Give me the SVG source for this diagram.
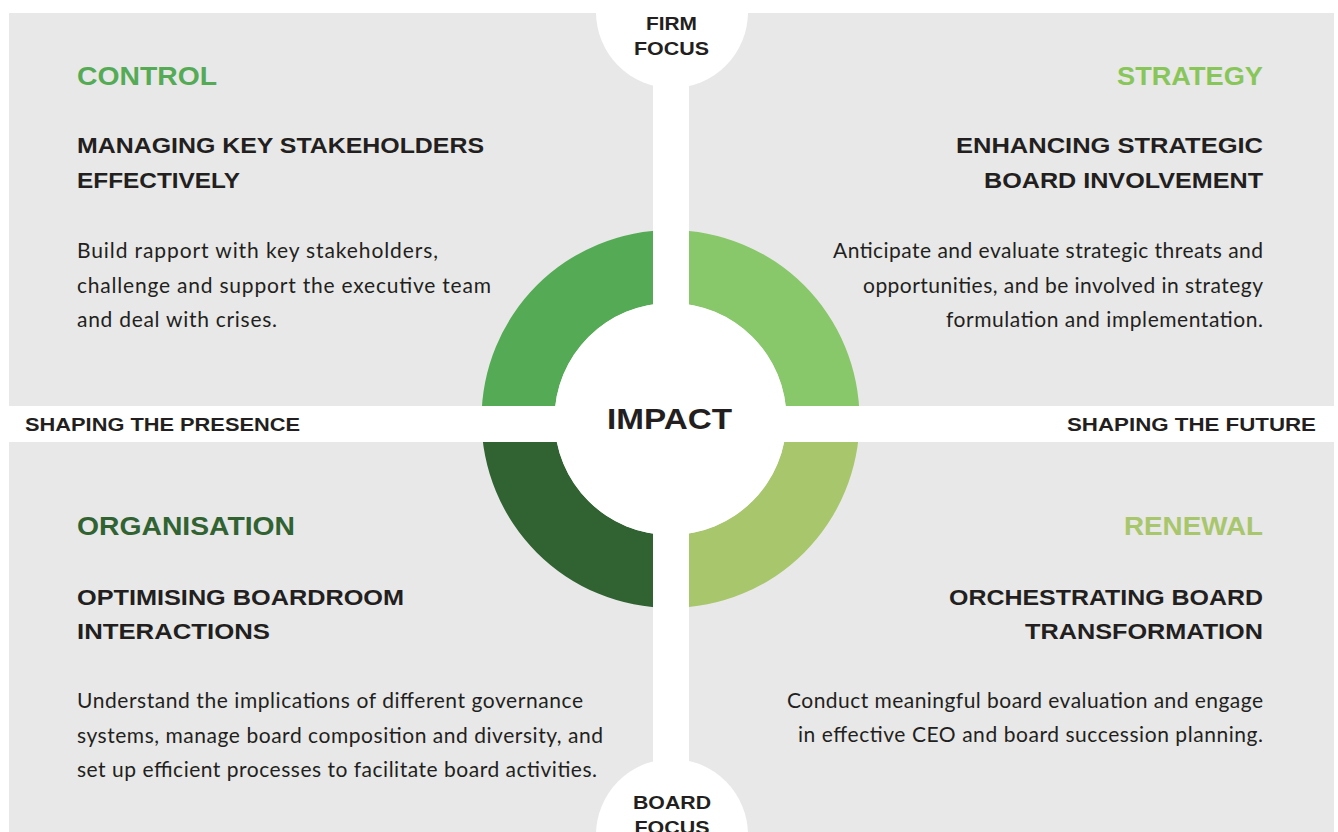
<svg xmlns="http://www.w3.org/2000/svg" width="1338" height="832" viewBox="0 0 1338 832">
  <style>
    .bg { fill: #e8e8e8; }
    .white { fill: #ffffff; }
    .h1 { font-family: "Liberation Sans", Arial, sans-serif; font-weight: 700; font-size: 25px; }
    .h2 { font-family: "Liberation Sans", Arial, sans-serif; font-weight: 700; font-size: 22.5px; fill: #231f20; }
    .body { font-family: Lato, "Liberation Sans", sans-serif; font-weight: 400; font-size: 21px; fill: #231f20; }
    .axis { font-family: "Liberation Sans", Arial, sans-serif; font-weight: 700; font-size: 19px; fill: #231f20; }
    .impact { font-family: "Liberation Sans", Arial, sans-serif; font-weight: 700; font-size: 30px; fill: #231f20; }
    .end { text-anchor: end; }
    .mid { text-anchor: middle; }
  </style>

  <rect x="0" y="0" width="1338" height="832" class="white"/>

  <g id="background">
    <rect class="bg" x="9" y="13" width="644" height="393"/>
    <rect class="bg" x="689" y="13" width="645" height="393"/>
    <rect class="bg" x="9" y="442" width="644" height="390"/>
    <rect class="bg" x="689" y="442" width="645" height="390"/>
  </g>

  <g id="ring">
    <path fill="#55ab55" d="M 481.5 419 A 189 189 0 0 1 670.5 230 L 670.5 303 A 116 116 0 0 0 554.5 419 Z"/>
    <path fill="#88c76a" d="M 670.5 230 A 189 189 0 0 1 859.5 419 L 786.5 419 A 116 116 0 0 0 670.5 303 Z"/>
    <path fill="#a8c66c" d="M 859.5 419 A 189 189 0 0 1 670.5 608 L 670.5 535 A 116 116 0 0 0 786.5 419 Z"/>
    <path fill="#316332" d="M 670.5 608 A 189 189 0 0 1 481.5 419 L 554.5 419 A 116 116 0 0 0 670.5 535 Z"/>
  </g>

  <g id="connectors">
    <rect class="white" x="653" y="0" width="36" height="832"/>
    <rect class="white" x="0" y="406" width="1338" height="36"/>
  </g>

  <g id="impact">
    <circle class="white" cx="670.5" cy="419" r="116"/>
    <text class="impact mid" x="669.5" y="429" textLength="125" lengthAdjust="spacingAndGlyphs">IMPACT</text>
  </g>

  <g id="firm-focus">
    <circle class="white" cx="672" cy="12" r="76"/>
    <text class="axis mid" x="671.5" y="30" textLength="51" lengthAdjust="spacingAndGlyphs">FIRM</text>
    <text class="axis mid" x="671.5" y="55" textLength="75" lengthAdjust="spacingAndGlyphs">FOCUS</text>
  </g>

  <g id="board-focus">
    <circle class="white" cx="672" cy="835" r="76"/>
    <text class="axis mid" x="672" y="809" textLength="78" lengthAdjust="spacingAndGlyphs">BOARD</text>
    <text class="axis mid" x="672" y="834" textLength="75" lengthAdjust="spacingAndGlyphs">FOCUS</text>
  </g>

  <g id="shaping-presence">
    <text class="axis" x="25" y="431" textLength="275" lengthAdjust="spacingAndGlyphs">SHAPING THE PRESENCE</text>
  </g>

  <g id="shaping-future">
    <text class="axis" x="1067" y="431" textLength="249" lengthAdjust="spacingAndGlyphs">SHAPING THE FUTURE</text>
  </g>

  <g id="control">
    <text class="h1" x="77" y="85" fill="#55ab55" textLength="140" lengthAdjust="spacingAndGlyphs">CONTROL</text>
    <text class="h2" x="77" y="153" textLength="407" lengthAdjust="spacingAndGlyphs">MANAGING KEY STAKEHOLDERS</text>
    <text class="h2" x="77" y="188" textLength="163" lengthAdjust="spacingAndGlyphs">EFFECTIVELY</text>
    <text class="body" x="77" y="258" textLength="361" lengthAdjust="spacing">Build rapport with key stakeholders,</text>
    <text class="body" x="77" y="293" textLength="414" lengthAdjust="spacing">challenge and support the executive team</text>
    <text class="body" x="77" y="327" textLength="200" lengthAdjust="spacing">and deal with crises.</text>
  </g>

  <g id="strategy">
    <text class="h1 end" x="1263" y="85" fill="#88c65a" textLength="146" lengthAdjust="spacingAndGlyphs">STRATEGY</text>
    <text class="h2 end" x="1263" y="153" textLength="307" lengthAdjust="spacingAndGlyphs">ENHANCING STRATEGIC</text>
    <text class="h2 end" x="1263" y="188" textLength="279" lengthAdjust="spacingAndGlyphs">BOARD INVOLVEMENT</text>
    <text class="body end" x="1263" y="258" textLength="430" lengthAdjust="spacing">Anticipate and evaluate strategic threats and</text>
    <text class="body end" x="1263" y="293" textLength="400" lengthAdjust="spacing">opportunities, and be involved in strategy</text>
    <text class="body end" x="1263" y="327" textLength="317" lengthAdjust="spacing">formulation and implementation.</text>
  </g>

  <g id="organisation">
    <text class="h1" x="77" y="535" fill="#316332" textLength="218" lengthAdjust="spacingAndGlyphs">ORGANISATION</text>
    <text class="h2" x="77" y="605" textLength="327" lengthAdjust="spacingAndGlyphs">OPTIMISING BOARDROOM</text>
    <text class="h2" x="77" y="639" textLength="193" lengthAdjust="spacingAndGlyphs">INTERACTIONS</text>
    <text class="body" x="77" y="708" textLength="506" lengthAdjust="spacing">Understand the implications of different governance</text>
    <text class="body" x="77" y="743" textLength="526" lengthAdjust="spacing">systems, manage board composition and diversity, and</text>
    <text class="body" x="77" y="777" textLength="520" lengthAdjust="spacing">set up efficient processes to facilitate board activities.</text>
  </g>

  <g id="renewal">
    <text class="h1 end" x="1263" y="535" fill="#a8c66c" textLength="139" lengthAdjust="spacingAndGlyphs">RENEWAL</text>
    <text class="h2 end" x="1263" y="605" textLength="314" lengthAdjust="spacingAndGlyphs">ORCHESTRATING BOARD</text>
    <text class="h2 end" x="1263" y="639" textLength="238" lengthAdjust="spacingAndGlyphs">TRANSFORMATION</text>
    <text class="body end" x="1263" y="708" textLength="476" lengthAdjust="spacing">Conduct meaningful board evaluation and engage</text>
    <text class="body end" x="1263" y="742" textLength="465" lengthAdjust="spacing">in effective CEO and board succession planning.</text>
  </g>
</svg>
